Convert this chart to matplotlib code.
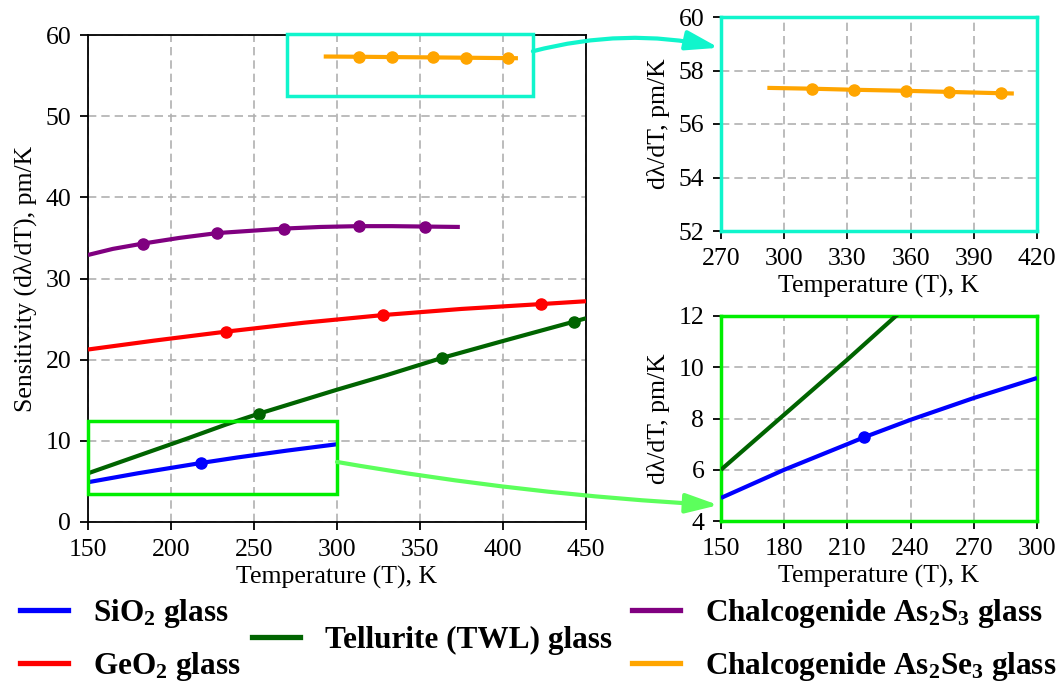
import matplotlib
matplotlib.use('Agg')
import matplotlib.pyplot as plt
from matplotlib.patches import Rectangle, ConnectionPatch
from matplotlib.lines import Line2D

plt.rcParams['font.family'] = ['Liberation Serif', 'DejaVu Serif']
plt.rcParams['mathtext.fontset'] = 'custom'
plt.rcParams['mathtext.rm'] = 'Liberation Serif'
plt.rcParams['mathtext.bf'] = 'Liberation Serif:bold'
plt.rcParams['mathtext.it'] = 'Liberation Serif:italic'

# ---------------- data ----------------
sio2_T = [150, 180, 210, 218, 240, 270, 300]
sio2_S = [4.9, 6.0, 7.0, 7.27, 7.95, 8.8, 9.58]
sio2_mT = [218]
sio2_mS = [7.27]

geo2_T = [150, 190, 233, 280, 328, 375, 423, 450]
geo2_S = [21.25, 22.35, 23.45, 24.55, 25.5, 26.25, 26.85, 27.2]
geo2_mT = [233, 328, 423]
geo2_mS = [23.45, 25.5, 26.85]

tel_T = [150, 180, 210, 233, 253, 300, 330, 363, 400, 443, 450]
tel_S = [6.0, 8.15, 10.3, 12.0, 13.35, 16.3, 18.1, 20.2, 22.3, 24.7, 25.1]
tel_mT = [253, 363, 443]
tel_mS = [13.35, 20.2, 24.7]

as2s3_T = [150, 165, 183, 205, 228, 268, 290, 313, 333, 353, 374]
as2s3_S = [32.9, 33.65, 34.3, 35.0, 35.6, 36.15, 36.35, 36.45, 36.45, 36.4, 36.35]
as2s3_mT = [183, 228, 268, 313, 353]
as2s3_mS = [34.3, 35.6, 36.15, 36.45, 36.4]

as2se3_T = [292, 313, 333, 358, 378, 403, 409]
as2se3_S = [57.35, 57.32, 57.28, 57.24, 57.2, 57.15, 57.14]
as2se3_mT = [313, 333, 358, 378, 403]
as2se3_mS = [57.32, 57.28, 57.24, 57.2, 57.15]

labels = [r'SiO$_\mathbf{2}$ glass', r'GeO$_\mathbf{2}$ glass',
          'Tellurite (TWL) glass',
          r'Chalcogenide As$_\mathbf{2}$S$_\mathbf{3}$ glass',
          r'Chalcogenide As$_\mathbf{2}$Se$_\mathbf{3}$ glass']
colors = ['blue', 'red', 'darkgreen', 'purple', 'orange']

main_xticks = [150, 200, 250, 300, 350, 400, 450]
main_yticks = [0, 10, 20, 30, 40, 50, 60]
top_xticks = [270, 300, 330, 360, 390, 420]
top_yticks = [52, 54, 56, 58, 60]
bot_xticks = [150, 180, 210, 240, 270, 300]
bot_yticks = [4, 6, 8, 10, 12]

series = [(sio2_T, sio2_S, sio2_mT, sio2_mS),
          (geo2_T, geo2_S, geo2_mT, geo2_mS),
          (tel_T, tel_S, tel_mT, tel_mS),
          (as2s3_T, as2s3_S, as2s3_mT, as2s3_mS),
          (as2se3_T, as2se3_S, as2se3_mT, as2se3_mS)]

CYAN = '#10f5cc'
LIME = '#00ee00'
ARROW_GREEN = '#5cff5c'

W, H = 1059, 682
fig = plt.figure(figsize=(W / 100, H / 100), dpi=100)

def px_axes(l, t, r, b):
    return fig.add_axes([l / W, (H - b) / H, (r - l) / W, (b - t) / H])

ax = px_axes(88, 35, 586, 522)
ax_top = px_axes(721, 17, 1037, 231)
ax_bot = px_axes(721, 316, 1037, 521)

FS = 18.5
grid_kw = dict(color='#b0b0b0', linestyle=(0, (5, 3)), linewidth=1.2)

for a in (ax, ax_top, ax_bot):
    for (T, S, mT, mS), c in zip(series, colors):
        a.plot(T, S, color=c, lw=3, solid_capstyle='butt', zorder=3)
        a.plot(mT, mS, 'o', color=c, ms=8, zorder=4)
    a.grid(True, **grid_kw)
    a.set_axisbelow(True)
    a.tick_params(labelsize=FS, length=6, width=1.3, direction='out', pad=6)
    a.set_xlabel('Temperature (T), K', fontsize=FS, labelpad=4)

ax.set_xlim(150, 450)
ax.set_ylim(0, 60)
ax.set_xticks(main_xticks)
ax.set_yticks(main_yticks)
ax.set_ylabel('Sensitivity (dλ/dT), pm/K', fontsize=FS, labelpad=6)
for s in ax.spines.values():
    s.set_linewidth(1.3)

ax_top.set_xlim(270, 420)
ax_top.set_ylim(52, 60)
ax_top.set_xticks(top_xticks)
ax_top.set_yticks(top_yticks)
ax_top.set_ylabel('dλ/dT, pm/K', fontsize=FS, labelpad=6)
for s in ax_top.spines.values():
    s.set_color(CYAN)
    s.set_linewidth(2.5)

ax_bot.set_xlim(150, 300)
ax_bot.set_ylim(4, 12)
ax_bot.set_xticks(bot_xticks)
ax_bot.set_yticks(bot_yticks)
ax_bot.set_ylabel('dλ/dT, pm/K', fontsize=FS, labelpad=6)
for s in ax_bot.spines.values():
    s.set_color(LIME)
    s.set_linewidth(2.5)

# zoom boxes on the main axes
ax.add_patch(Rectangle((270, 52.5), 148, 7.6, fill=False, ec=CYAN, lw=2.5,
                       clip_on=False, zorder=5))
ax.add_patch(Rectangle((150, 3.5), 150, 8.9, fill=False, ec=LIME, lw=2.5,
                       clip_on=False, zorder=5))

astyle = '-|>,head_length=0.6,head_width=0.18'
con1 = ConnectionPatch(xyA=(418, 58.0), coordsA=ax.transData,
                       xyB=(269.0, 58.85), coordsB=ax_top.transData,
                       arrowstyle=astyle, connectionstyle='arc3,rad=-0.12',
                       color=CYAN, lw=3, mutation_scale=33,
                       shrinkA=0, shrinkB=0, zorder=6)
fig.add_artist(con1)
con2 = ConnectionPatch(xyA=(300, 7.4), coordsA=ax.transData,
                       xyB=(148.8, 4.62), coordsB=ax_bot.transData,
                       arrowstyle=astyle, connectionstyle='arc3,rad=0.03',
                       color=ARROW_GREEN, lw=3, mutation_scale=33,
                       shrinkA=0, shrinkB=0, zorder=6)
fig.add_artist(con2)

# legends (three groups)
handles = [Line2D([], [], color=c, lw=3.8) for c in colors]
leg_kw = dict(frameon=False, prop={'weight': 'bold', 'size': 22.5},
              handlelength=1.55, handletextpad=0.8, borderpad=0,
              borderaxespad=0, labelspacing=0.62, loc='center left')
ycen = (H - 640) / H
fig.legend(handles[0:2], labels[0:2], bbox_to_anchor=(20 / W, ycen), **leg_kw)
fig.legend(handles[2:3], labels[2:3], bbox_to_anchor=(252 / W, ycen), **leg_kw)
fig.legend(handles[3:5], labels[3:5], bbox_to_anchor=(632 / W, ycen), **leg_kw)

fig.savefig('out.png', dpi=100)
